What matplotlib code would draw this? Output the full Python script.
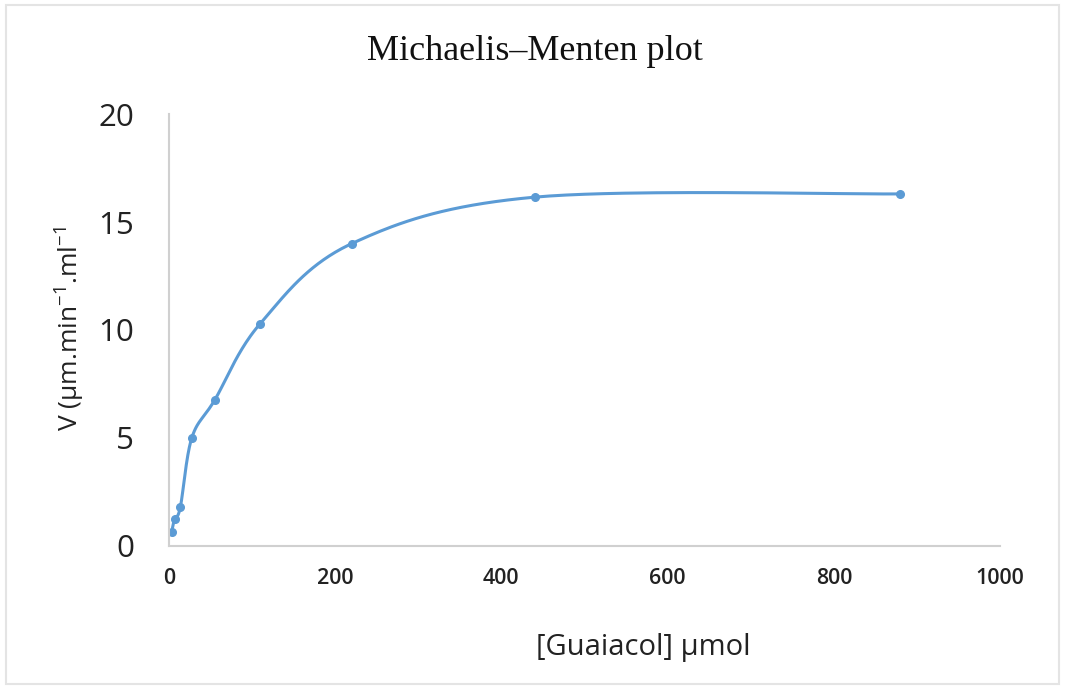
import numpy as np
import matplotlib
matplotlib.use("Agg")
import matplotlib.pyplot as plt
from matplotlib.patches import Rectangle

# Substrate concentration (µmol) and initial velocity
guaiacol = [3.4375, 6.875, 13.75, 27.5, 55, 110, 220, 440, 880]
velocity = [0.66, 1.25, 1.8, 5.0, 6.75, 10.3, 14.0, 16.15, 16.3]

x_ticks = [0, 200, 400, 600, 800, 1000]
y_ticks = [0, 5, 10, 15, 20]

LINE_COLOR = "#5B9BD5"
AXIS_COLOR = "#D0D0D0"

plt.rcParams["font.family"] = ["Open Sans", "DejaVu Sans"]
plt.rcParams["mathtext.fontset"] = "custom"
plt.rcParams["mathtext.rm"] = "Open Sans"
plt.rcParams["mathtext.it"] = "Open Sans"


def smooth_curve(xs, ys, x_span, y_span, n=40):
    """Cardinal-spline smoothing of a polyline (Bezier segments through the points)."""
    px = np.asarray(xs, float) / x_span
    py = np.asarray(ys, float) / y_span
    pts = np.column_stack([px, py])
    out = []
    t = np.linspace(0, 1, n)
    for i in range(len(pts) - 1):
        p0 = pts[i - 1] if i > 0 else pts[i]
        p1 = pts[i]
        p2 = pts[i + 1]
        p3 = pts[i + 2] if i + 2 < len(pts) else pts[i + 1]
        c1 = p1 + (p2 - p0) / 6.0
        c2 = p2 - (p3 - p1) / 6.0
        seg = ((1 - t) ** 3)[:, None] * p1 + (3 * (1 - t) ** 2 * t)[:, None] * c1 \
            + (3 * (1 - t) * t ** 2)[:, None] * c2 + (t ** 3)[:, None] * p2
        out.append(seg if i == 0 else seg[1:])
    curve = np.vstack(out)
    return curve[:, 0] * x_span, curve[:, 1] * y_span


fig = plt.figure(figsize=(10.69, 6.88), dpi=100)
fig.patches.append(Rectangle((0.006, 0.006), 0.985, 0.987, transform=fig.transFigure,
                             fill=False, edgecolor="#E4E4E4", linewidth=1.5))

ax = fig.add_axes([0.158, 0.2064, 0.7775, 0.6279])

# scale factors reflect the plot's on-screen aspect so the smoothing looks even
sx, sy = smooth_curve(guaiacol, velocity, 1000 / 831.0, 20 / 432.0)
ax.plot(sx, sy, color=LINE_COLOR, linewidth=2.2, solid_capstyle="round")
ax.plot(guaiacol, velocity, linestyle="none", marker="o", markersize=5.5,
        color=LINE_COLOR)

ax.set_xlim(0, 1000)
ax.set_ylim(0, 20)
ax.set_xticks(x_ticks)
ax.set_yticks(y_ticks)
ax.tick_params(axis="x", length=0, pad=16, labelsize=15.5, labelcolor="#222222")
ax.tick_params(axis="y", length=0, pad=25, labelsize=22.5, labelcolor="#222222")
for lbl in ax.get_xticklabels():
    lbl.set_fontweight("semibold")

for side in ("top", "right"):
    ax.spines[side].set_visible(False)
for side in ("left", "bottom"):
    ax.spines[side].set_color(AXIS_COLOR)
    ax.spines[side].set_linewidth(1.5)

fig.text(0.5, 1 - 52 / 688, "Michaelis–Menten plot", ha="center", va="center",
         family="Liberation Serif", fontsize=26, color="#111111")
fig.text(643 / 1069, 1 - 647 / 688, "[Guaiacol] µmol", ha="center", va="center",
         fontsize=21, color="#222222")
fig.text(70 / 1069, 1 - 329 / 688, r"V (µm.min$^{-1}$.ml$^{-1}$", ha="center", va="center",
         rotation=90, fontsize=19, color="#222222")

fig.savefig("out.png", dpi=100)
